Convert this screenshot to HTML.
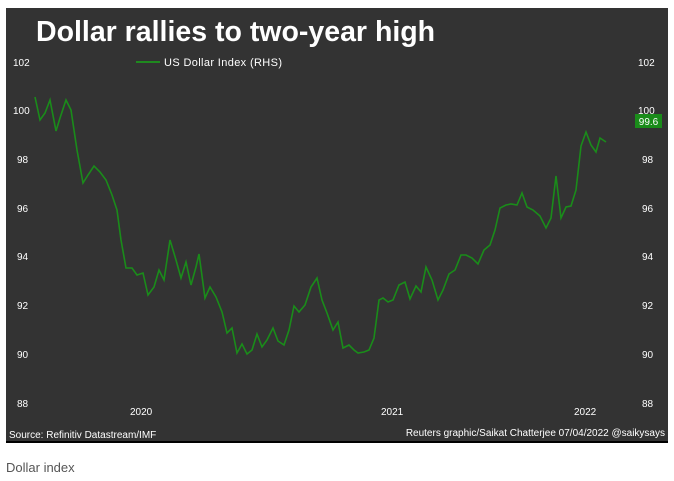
<!DOCTYPE html>
<html><head><style>
body{margin:0;background:#fff;width:674px;height:481px;overflow:hidden;font-family:"Liberation Sans",sans-serif}
</style></head><body>
<svg width="674" height="481" xmlns="http://www.w3.org/2000/svg" style="position:absolute;left:0;top:0">
<rect x="6" y="8" width="662" height="434" fill="#333333"/>
<rect x="6" y="441" width="662" height="2" fill="#000"/>
<text x="36" y="41" font-family="Liberation Sans,sans-serif" font-weight="bold" font-size="28.5" fill="#fff">Dollar rallies to two-year high</text>
<line x1="136" y1="62" x2="160" y2="62" stroke="#1f8a1f" stroke-width="2"/>
<text x="164" y="66" font-size="11" fill="#fff" textLength="118">US Dollar Index (RHS)</text>
<g font-size="10" fill="#fff">
<text x="13" y="66">102</text><text x="13" y="114">100</text><text x="17" y="163">98</text><text x="17" y="212">96</text><text x="17" y="260">94</text><text x="17" y="309">92</text><text x="17" y="358">90</text><text x="17" y="407">88</text>
<text x="638" y="66">102</text><text x="638" y="114">100</text><text x="642" y="163">98</text><text x="642" y="212">96</text><text x="642" y="260">94</text><text x="642" y="309">92</text><text x="642" y="358">90</text><text x="642" y="407">88</text>
<text x="130" y="415">2020</text><text x="381" y="415">2021</text><text x="574" y="415">2022</text>
<text x="9" y="438">Source: Refinitiv Datastream/IMF</text>
<text x="665" y="436" text-anchor="end">Reuters graphic/Saikat Chatterjee 07/04/2022 @saikysays</text>
</g>
<polyline fill="none" stroke="#1a8c1a" stroke-width="1.6" points="35,97 40,120 45,113 50,100 56,131 60,118 66,100 71,110 77,150 83,183 88,175 94,166 100,172 106,180 112,195 117,210 121,240 126,268 132,268 137,275 143,273 148,295 154,287 159,270 164,280 170,240 176,260 181,278 186,262 191,285 196,267 199,254 205,298 210,287 216,297 222,312 227,333 232,328 237,353 242,344 247,354 252,350 257,334 262,347 267,340 273,328 278,341 284,345 289,330 294,306 299,312 305,305 311,287 317,278 322,300 327,313 333,330 338,322 343,348 349,345 354,350 358,353 364,352 369,350 374,338 379,300 383,298 388,302 393,300 399,285 405,282 410,299 416,286 421,292 426,267 432,280 438,300 443,290 449,274 455,270 461,255 466,255 472,258 478,264 484,250 490,245 495,230 500,208 506,205 511,204 517,205 522,193 527,207 533,210 540,216 546,228 551,218 556,176 561,218 566,207 571,206 576,190 581,146 586,132 591,145 596,152 600,138 606,142"/>
<rect x="635" y="114" width="27" height="14" fill="#1a8c1a"/>
<text x="648.5" y="125" font-size="10" fill="#fff" text-anchor="middle">99.6</text>
<text x="6" y="472" font-size="13" fill="#555">Dollar index</text>
</svg>
</body></html>
